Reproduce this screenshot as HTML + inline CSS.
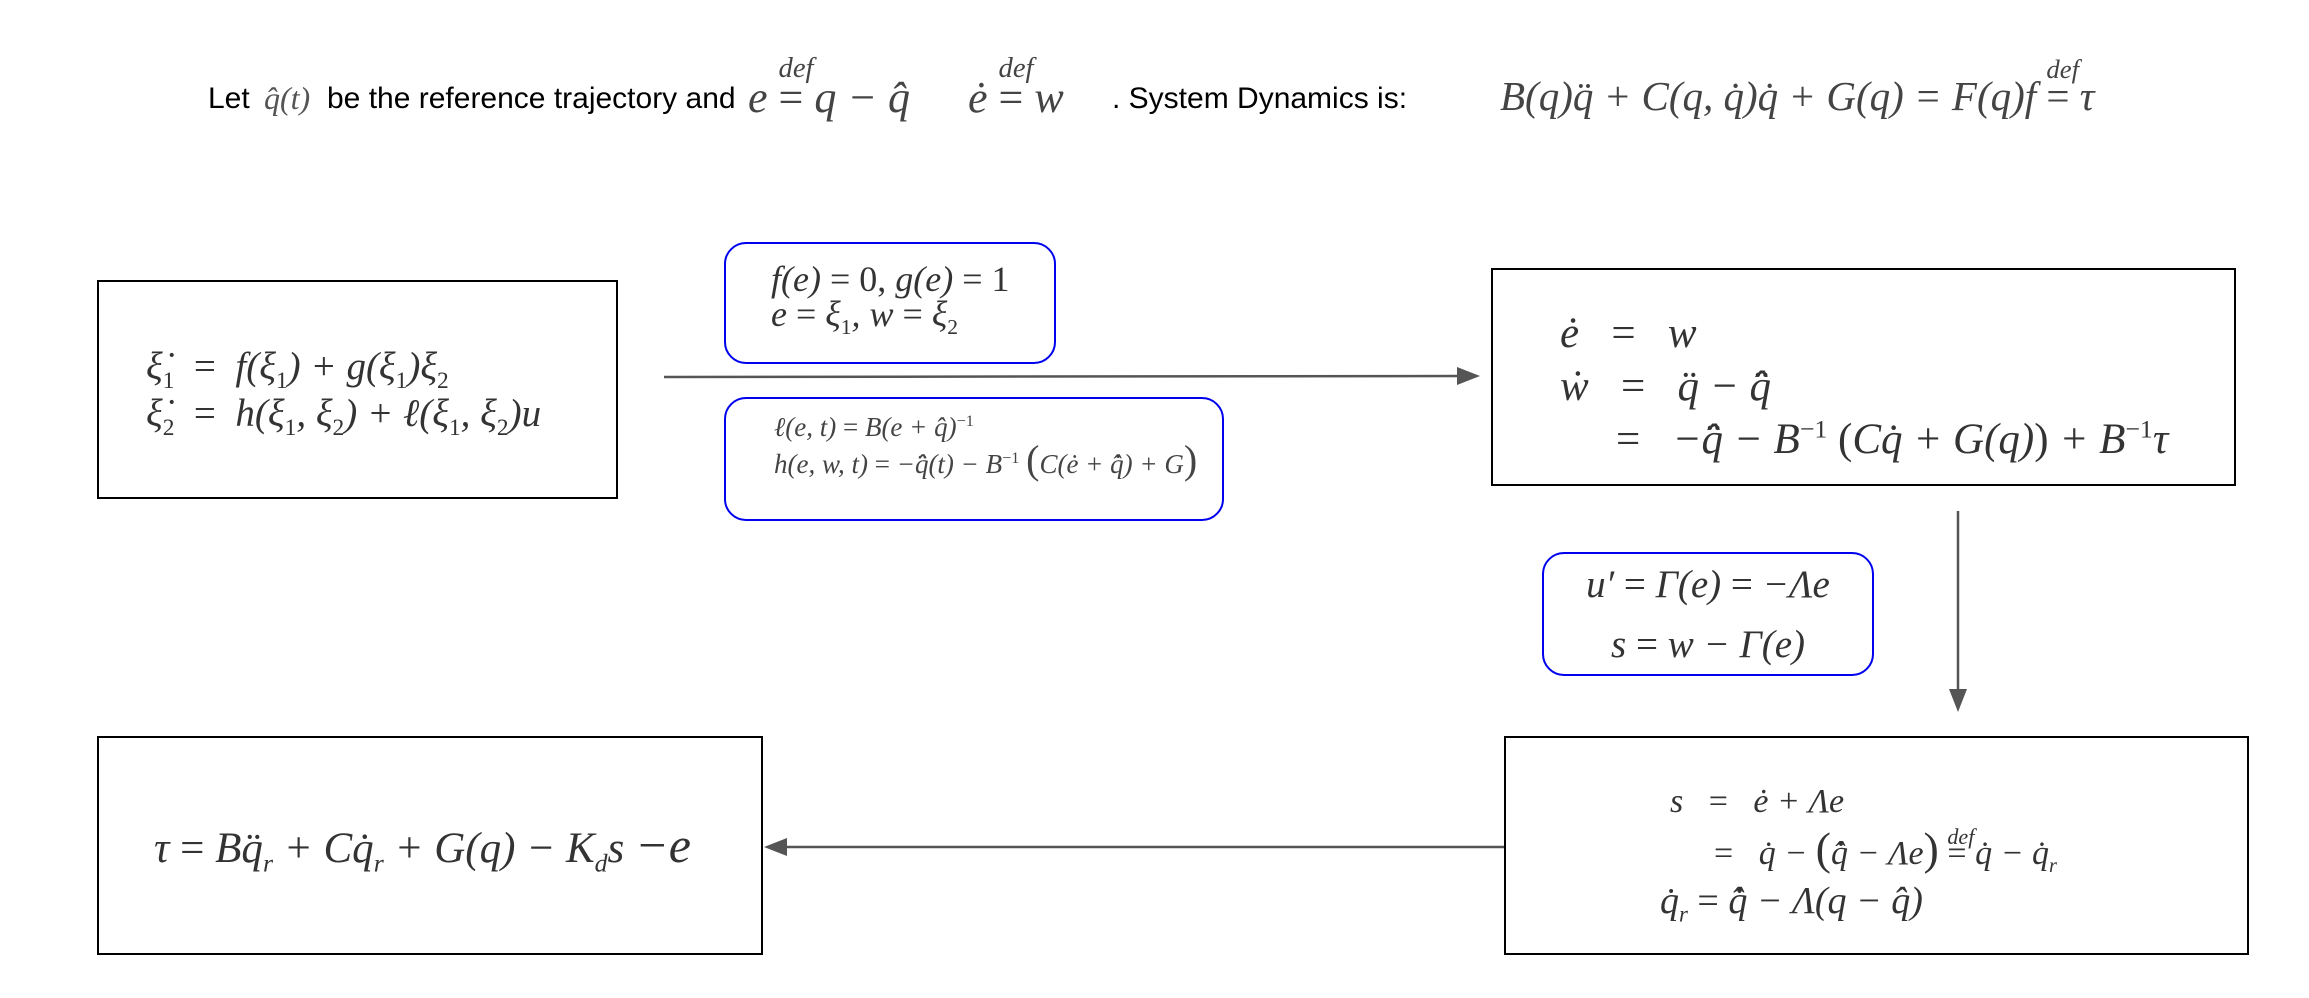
<!DOCTYPE html>
<html><head><meta charset="utf-8"><style>
body{margin:0;width:2309px;height:998px;background:#fff;position:relative;overflow:hidden;font-family:"Liberation Serif",serif;color:#222}
.a{position:absolute;white-space:nowrap;line-height:1}
.s{font-family:"Liberation Sans",sans-serif;font-size:30px;color:#000}
.m{font-style:italic}
.box{position:absolute;border:2.5px solid #000;box-sizing:border-box}
.bb{position:absolute;border:2.5px solid #0000ee;border-radius:22px;box-sizing:border-box}
sub,sup{font-size:60%;font-style:italic;line-height:0}
.r{font-style:normal}
.def{display:inline-block;position:relative}
.def i{position:absolute;left:0;top:-0.75em;font-size:65%}
</style></head><body>
<!-- header -->
<div class="a s" style="left:208px;top:84px">Let</div>
<div class="a m" style="left:264px;top:82px;font-size:32px;color:#555">q̂(t)</div>
<div class="a s" style="left:327px;top:84px">be the reference trajectory and</div>
<div class="a m" style="left:748px;top:76px;font-size:44px;color:#444">e <span class="def r">=<i class="m">def</i></span> q − q̂</div>
<div class="a m" style="left:968px;top:76px;font-size:44px;color:#444">ė <span class="def r">=<i class="m">def</i></span> w</div>
<div class="a s" style="left:1112px;top:84px">. System Dynamics is:</div>
<div class="a m" style="left:1500px;top:76px;font-size:41px;color:#444">B(q)q̈ + C(q, q̇)q̇ + G(q) = F(q)f <span class="def r">=<i class="m">def</i></span> τ</div>

<!-- boxes -->
<div class="box" style="left:97px;top:280px;width:521px;height:219px"></div>
<div class="a m" style="left:146px;top:343px;font-size:39px;line-height:47px;color:#333">
ξ̇<sub class="r">1</sub> &nbsp;<span class="r">=</span>&nbsp; f(ξ<sub class="r">1</sub>) + g(ξ<sub class="r">1</sub>)ξ<sub class="r">2</sub><br>
ξ̇<sub class="r">2</sub> &nbsp;<span class="r">=</span>&nbsp; h(ξ<sub class="r">1</sub>, ξ<sub class="r">2</sub>) + ℓ(ξ<sub class="r">1</sub>, ξ<sub class="r">2</sub>)u</div>

<div class="bb" style="left:724px;top:242px;width:332px;height:122px"></div>
<div class="a m" style="left:771px;top:262px;font-size:36px;line-height:35px;color:#333">f(e) <span class="r">= 0,</span> g(e) <span class="r">= 1</span><br>e <span class="r">=</span> ξ<sub class="r">1</sub>, w <span class="r">=</span> ξ<sub class="r">2</sub></div>

<div class="bb" style="left:724px;top:397px;width:500px;height:124px"></div>
<div class="a m" style="left:774px;top:409px;font-size:27px;line-height:37px;color:#444">ℓ(e, t) <span class="r">=</span> B(e + q̂)<sup class="r">−1</sup><br>h(e, w, t) <span class="r">=</span> −q̈̂(t) − B<sup class="r">−1</sup> <span class="r" style="font-size:40px;line-height:0">(</span>C(ė + q̂̇) + G<span class="r" style="font-size:40px;line-height:0">)</span></div>

<div class="box" style="left:1491px;top:268px;width:745px;height:218px"></div>
<div class="a m" style="left:1560px;top:307px;font-size:43px;line-height:53px;color:#333">
<div>ė&nbsp;&nbsp;&nbsp;<span class="r">=</span>&nbsp;&nbsp; w</div>
<div>ẇ&nbsp;&nbsp;&nbsp;<span class="r">=</span>&nbsp;&nbsp; q̈ − q̈̂</div>
<div style="padding-left:56px"><span class="r">=</span>&nbsp;&nbsp; −q̈̂ − B<sup class="r">−1</sup> <span class="r">(</span>Cq̇ + G(q)<span class="r">)</span> + B<sup class="r">−1</sup>τ</div></div>

<div class="bb" style="left:1542px;top:552px;width:332px;height:124px"></div>
<div class="a m" style="left:1558px;top:555px;font-size:39px;line-height:60px;color:#333;text-align:center;width:300px">u′ <span class="r">=</span> Γ(e) <span class="r">=</span> −Λe<br>s <span class="r">=</span> w − Γ(e)</div>

<div class="box" style="left:1504px;top:736px;width:745px;height:219px"></div>
<div class="a m" style="left:1670px;top:776px;font-size:34px;line-height:52px;color:#333">
<div>s &nbsp;&nbsp;<span class="r">=</span>&nbsp;&nbsp; ė + Λe</div>
<div style="padding-left:44px"><span class="r">=</span>&nbsp;&nbsp; q̇ − <span class="r" style="font-size:46px;line-height:0">(</span>q̂̇ − Λe<span class="r" style="font-size:46px;line-height:0">)</span> <span class="def r">=<i class="m">def</i></span> q̇ − q̇<sub>r</sub></div></div>
<div class="a m" style="left:1660px;top:882px;font-size:38px;color:#333">q̇<sub>r</sub> <span class="r">=</span> q̂̇ − Λ(q − q̂)</div>

<div class="box" style="left:97px;top:736px;width:666px;height:219px"></div>
<div class="a m" style="left:154px;top:820px;font-size:43px;color:#333">τ <span class="r">=</span> Bq̈<sub>r</sub> + Cq̇<sub>r</sub> + G(q) − K<sub>d</sub>s <span style="font-size:50px">−e</span></div>

<!-- arrows -->
<svg width="2309" height="998" style="position:absolute;left:0;top:0">
<g stroke="#555" stroke-width="2.5" fill="#555">
<line x1="664" y1="377" x2="1463" y2="376"/>
<polygon points="1480,376 1457,367 1457,385" stroke="none"/>
<line x1="1958" y1="511" x2="1958" y2="695"/>
<polygon points="1958,712 1949,689 1967,689" stroke="none"/>
<line x1="1504" y1="847" x2="780" y2="847"/>
<polygon points="764,847 787,838 787,856" stroke="none"/>
</g></svg>
</body></html>
